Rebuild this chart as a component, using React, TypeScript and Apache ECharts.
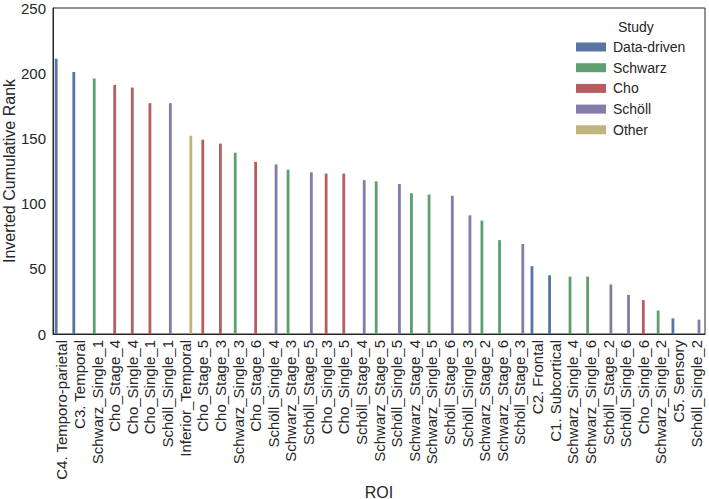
import React, { useEffect, useRef } from "react";
import * as echarts from "echarts";

const categories = [
  "C4. Temporo-parietal", "C3. Temporal", "Schwarz_Single_1", "Cho_Stage_4", "Cho_Single_4",
  "Cho_Single_1", "Schöll_Single_1", "Inferior_Temporal", "Cho_Stage_5", "Cho_Stage_3",
  "Schwarz_Single_3", "Cho_Stage_6", "Schöll_Single_4", "Schwarz_Stage_3", "Schöll_Stage_5",
  "Cho_Single_3", "Cho_Single_5", "Schöll_Stage_4", "Schwarz_Stage_5", "Schöll_Single_5",
  "Schwarz_Stage_4", "Schwarz_Single_5", "Schöll_Stage_6", "Schöll_Single_3", "Schwarz_Stage_2",
  "Schwarz_Stage_6", "Schöll_Stage_3", "C2. Frontal", "C1. Subcortical", "Schwarz_Single_4",
  "Schwarz_Single_6", "Schöll_Stage_2", "Schöll_Single_6", "Cho_Single_6", "Schwarz_Single_2",
  "C5. Sensory", "Schöll_Single_2",
];

const values = [
  211, 201, 196, 191, 189,
  177, 177, 152, 149, 146,
  139, 132, 130, 126, 124,
  123, 123, 118, 117, 115,
  108, 107, 106, 91, 87,
  72, 69, 52, 45, 44,
  44, 38, 30, 26, 18,
  12, 11,
];

const studyOf = [
  "Data-driven", "Data-driven", "Schwarz", "Cho", "Cho",
  "Cho", "Schöll", "Other", "Cho", "Cho",
  "Schwarz", "Cho", "Schöll", "Schwarz", "Schöll",
  "Cho", "Cho", "Schöll", "Schwarz", "Schöll",
  "Schwarz", "Schwarz", "Schöll", "Schöll", "Schwarz",
  "Schwarz", "Schöll", "Data-driven", "Data-driven", "Schwarz",
  "Schwarz", "Schöll", "Schöll", "Cho", "Schwarz",
  "Data-driven", "Schöll",
];

const studies = ["Data-driven", "Schwarz", "Cho", "Schöll", "Other"];
const studyColors = ["#5875A4", "#5F9E6E", "#B55D60", "#857AAA", "#C1B37F"];

const yTicks = [0, 50, 100, 150, 200, 250];

const FONT = "'Liberation Sans', Arial, Helvetica, sans-serif";
const TXT = "#262626";

export default function App() {
  const ref = useRef<HTMLDivElement>(null);

  useEffect(() => {
    if (!ref.current) return;
    const chart = echarts.init(ref.current, null, { renderer: "svg" });

    const series = studies.map((s, si) => ({
      name: s,
      type: "bar" as const,
      data: values.map((v, i) => (studyOf[i] === s ? v : "-")),
      itemStyle: { color: studyColors[si] },
      barGap: "0%",
      barCategoryGap: "20%",
    }));

    chart.setOption({
      animation: false,
      textStyle: { fontFamily: FONT, color: TXT },
      grid: {
        left: 53,
        right: 4,
        top: 8,
        bottom: 165,
        containLabel: false,
        outerBoundsMode: "none",
        show: true,
        borderColor: TXT,
        borderWidth: 1,
        backgroundColor: "transparent",
      },
      legend: {
        orient: "vertical",
        left: 576,
        top: 40,
        padding: 0,
        icon: "rect",
        itemWidth: 30,
        itemHeight: 9,
        itemGap: 6.7,
        data: studies,
        textStyle: {
          fontFamily: FONT,
          fontSize: 14,
          lineHeight: 14,
          color: TXT,
          padding: [0, 0, 0, 2],
        },
      },
      graphic: [
        {
          type: "text",
          left: 618,
          top: 20,
          style: { text: "Study", fontFamily: FONT, fontSize: 14, fill: TXT },
        },
        {
          type: "text",
          x: 379,
          y: 492,
          style: {
            text: "ROI",
            fontFamily: FONT,
            fontSize: 16,
            fill: TXT,
            align: "center",
            verticalAlign: "middle",
          },
        },
        {
          type: "text",
          x: 9,
          y: 171,
          rotation: Math.PI / 2,
          style: {
            text: "Inverted Cumulative Rank",
            fontFamily: FONT,
            fontSize: 16,
            fill: TXT,
            align: "center",
            verticalAlign: "middle",
          },
        },
      ],
      xAxis: {
        type: "category",
        data: categories,
        axisLine: { show: true, lineStyle: { color: TXT, width: 1 } },
        axisTick: { show: false },
        axisLabel: {
          rotate: 90,
          interval: 0,
          margin: 6,
          fontFamily: FONT,
          fontSize: 15,
          color: TXT,
        },
        splitLine: { show: false },
      },
      yAxis: {
        type: "value",
        min: yTicks[0],
        max: yTicks[yTicks.length - 1],
        interval: 50,
        axisLine: { show: true, lineStyle: { color: TXT, width: 1 } },
        axisTick: { show: false },
        axisLabel: { margin: 7, fontFamily: FONT, fontSize: 15, color: TXT },
        splitLine: { show: false },
      },
      series,
    });

    return () => chart.dispose();
  }, []);

  return (
    <div
      ref={ref}
      style={{ position: "fixed", left: 0, top: 0, width: 709, height: 499, background: "#fff" }}
    />
  );
}
